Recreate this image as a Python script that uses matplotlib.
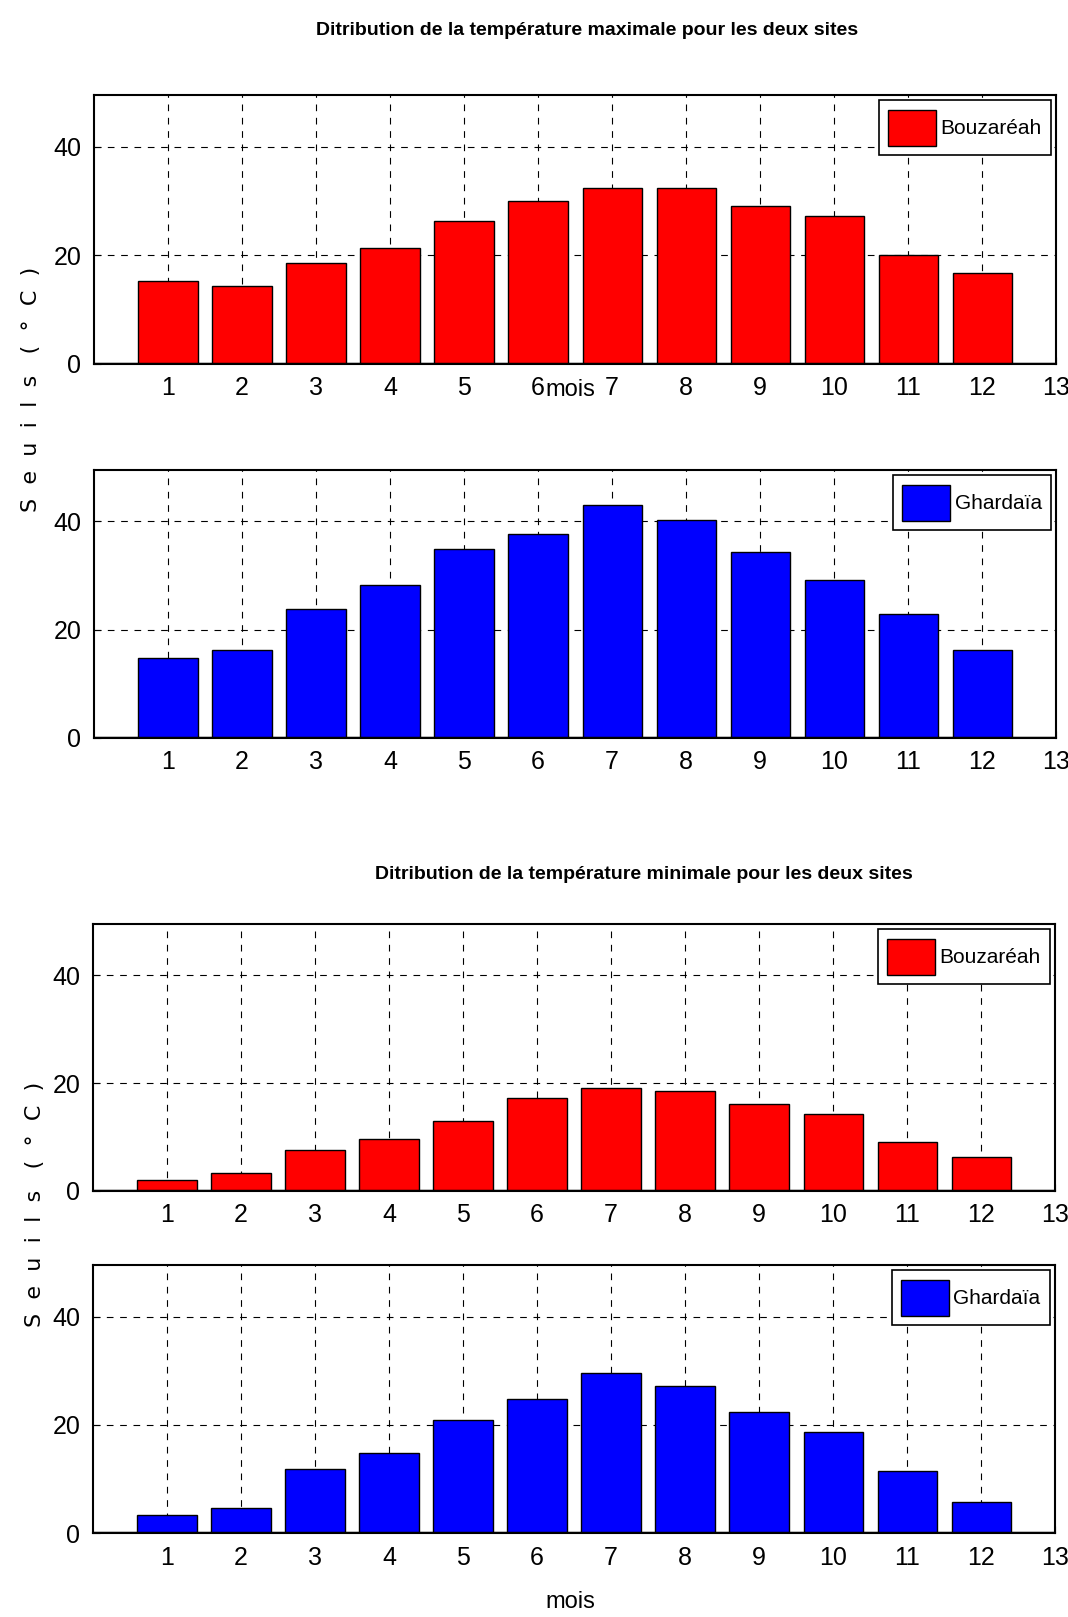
import matplotlib
matplotlib.use('Agg')
import matplotlib.pyplot as plt
import numpy as np

plt.rcParams['font.family'] = ['Liberation Sans', 'DejaVu Sans']

mois = np.arange(1, 13)
tmax_bouzareah = [15.3, 14.4, 18.6, 21.4, 26.3, 30.0, 32.3, 32.3, 29.0, 27.2, 20.0, 16.7]
tmax_ghardaia = [14.8, 16.2, 23.9, 28.2, 34.9, 37.7, 43.0, 40.2, 34.4, 29.1, 23.0, 16.2]
tmin_bouzareah = [2.0, 3.4, 7.6, 9.7, 12.9, 17.2, 19.1, 18.6, 16.2, 14.3, 9.0, 6.3]
tmin_ghardaia = [3.3, 4.7, 11.9, 14.8, 20.9, 24.7, 29.5, 27.1, 22.4, 18.6, 11.4, 5.7]
sites = ['Bouzaréah', 'Ghardaïa']
couleurs = ['#ff0000', '#0000ff']

fig = plt.figure(figsize=(10.68, 16.17), dpi=100)

# [left, bottom, width, height]
positions = [
    [0.088, 0.7749, 0.901, 0.1664],
    [0.088, 0.5436, 0.901, 0.1657],
    [0.087, 0.2635, 0.901, 0.1651],
    [0.087, 0.0519, 0.901, 0.1657],
]
series = [tmax_bouzareah, tmax_ghardaia, tmin_bouzareah, tmin_ghardaia]

for k, (pos, vals) in enumerate(zip(positions, series)):
    ax = fig.add_axes(pos)
    site = sites[k % 2]
    ax.bar(mois, vals, width=0.8, color=couleurs[k % 2], edgecolor='black',
           linewidth=1.0, label=site, zorder=3)
    ax.axhline(0, color='black', linewidth=2.5, zorder=4)
    ax.set_xlim(0, 13)
    ax.set_ylim(0, 49.5)
    ax.set_xticks(np.arange(1, 14))
    ax.set_yticks([0, 20, 40])
    ax.tick_params(direction='in', labelsize=18, length=5, pad=9)
    ax.grid(True, linestyle=(0, (6, 6)), color='black', linewidth=0.8, zorder=1)
    for s in ax.spines.values():
        s.set_linewidth(1.5)
    leg = ax.legend(loc='upper right', fontsize=15, handlelength=2.3,
                    handleheight=2.3, fancybox=False, framealpha=1,
                    edgecolor='black', borderaxespad=0.25, handletextpad=0.2,
                    borderpad=0.45)
    leg.get_frame().set_linewidth(1.2)

fig.text(0.55, 0.981, 'Ditribution de la température maximale pour les deux sites',
         ha='center', va='center', fontsize=14, fontweight='bold')
fig.text(0.603, 0.459, 'Ditribution de la température minimale pour les deux sites',
         ha='center', va='center', fontsize=14, fontweight='bold')

fig.text(0.534, 0.759, 'mois', ha='center', va='center', fontsize=17)
fig.text(0.534, 0.009, 'mois', ha='center', va='center', fontsize=17)

fig.text(0.029, 0.759, 'S  e  u  i  l  s   (  °  C  )', rotation=90, ha='center',
         va='center', fontsize=16, family=['DejaVu Sans'])
fig.text(0.033, 0.255, 'S  e  u  i  l  s   (  °  C  )', rotation=90, ha='center',
         va='center', fontsize=16, family=['DejaVu Sans'])

fig.savefig('out.png', dpi=100, facecolor='white')
